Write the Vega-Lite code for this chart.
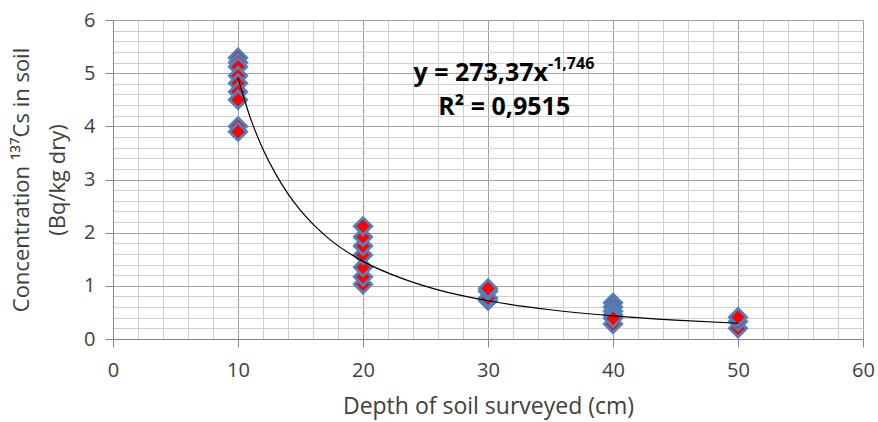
{
  "$schema": "https://vega.github.io/schema/vega-lite/v6.json",
  "width": 750,
  "height": 319,
  "autosize": {"type": "none"},
  "padding": {"left": 113, "top": 20, "right": 15, "bottom": 83},
  "background": "white",
  "config": {
    "view": {"stroke": null},
    "axis": {
      "labelFont": "Open Sans",
      "labelFontSize": 20,
      "labelColor": "#404040",
      "titleFont": "Open Sans",
      "titleFontSize": 22,
      "titleFontWeight": "normal",
      "titleColor": "#404040",
      "domainColor": "#868686",
      "tickColor": "#868686",
      "gridWidth": 1
    }
  },
  "datasets": {
    "obs": [
      {"depth": 10, "conc": 5.29}, {"depth": 10, "conc": 5.2}, {"depth": 10, "conc": 5.12},
      {"depth": 10, "conc": 4.95}, {"depth": 10, "conc": 4.81}, {"depth": 10, "conc": 4.65},
      {"depth": 10, "conc": 4.5}, {"depth": 10, "conc": 4.0}, {"depth": 10, "conc": 3.9},
      {"depth": 20, "conc": 1.03}, {"depth": 20, "conc": 1.17}, {"depth": 20, "conc": 1.35},
      {"depth": 20, "conc": 1.58}, {"depth": 20, "conc": 1.75}, {"depth": 20, "conc": 1.92},
      {"depth": 20, "conc": 2.12},
      {"depth": 30, "conc": 0.72}, {"depth": 30, "conc": 0.77}, {"depth": 30, "conc": 0.9},
      {"depth": 30, "conc": 0.95},
      {"depth": 40, "conc": 0.68}, {"depth": 40, "conc": 0.6}, {"depth": 40, "conc": 0.52},
      {"depth": 40, "conc": 0.45}, {"depth": 40, "conc": 0.28}, {"depth": 40, "conc": 0.39},
      {"depth": 50, "conc": 0.2}, {"depth": 50, "conc": 0.33}, {"depth": 50, "conc": 0.41}
    ],
    "trend": [
      {"depth": 10, "conc": 4.91}, {"depth": 11, "conc": 4.15}, {"depth": 12, "conc": 3.57},
      {"depth": 13, "conc": 3.11}, {"depth": 14, "conc": 2.73}, {"depth": 15, "conc": 2.42},
      {"depth": 17, "conc": 1.94}, {"depth": 20, "conc": 1.46}, {"depth": 23, "conc": 1.15},
      {"depth": 26, "conc": 0.925}, {"depth": 30, "conc": 0.72}, {"depth": 35, "conc": 0.55},
      {"depth": 40, "conc": 0.436}, {"depth": 45, "conc": 0.355}, {"depth": 50, "conc": 0.296}
    ],
    "notes": [
      {"kind": "eq", "depth": 34.8, "conc": 5.0, "label": "y = 273,37x"},
      {"kind": "sup", "depth": 34.8, "conc": 5.17, "label": "-1,746"},
      {"kind": "r2", "depth": 31.3, "conc": 4.37, "label": "R² = 0,9515"}
    ]
  },
  "encoding": {
    "x": {
      "field": "depth",
      "type": "quantitative",
      "scale": {"domain": [0, 60], "nice": false, "zero": false},
      "axis": {
        "title": "Depth of soil surveyed (cm)",
        "titleFontSize": 23,
        "values": [0,2,4,6,8,10,12,14,16,18,20,22,24,26,28,30,32,34,36,38,40,42,44,46,48,50,52,54,56,58,60],
        "labelExpr": "abs(datum.value - round(datum.value/10)*10) < 1e-6 ? datum.label : ''",
        "grid": true,
        "gridColor": {"condition": {"test": "abs(datum.value - round(datum.value/10)*10) < 1e-6", "value": "#a0a0a0"}, "value": "#d0d0d0"},
        "tickOpacity": {"condition": {"test": "abs(datum.value - round(datum.value/10)*10) < 1e-6", "value": 1}, "value": 0},
        "tickSize": 8,
        "labelPadding": 13,
        "titlePadding": 15,
        "labelFlush": false
      }
    },
    "y": {
      "field": "conc",
      "type": "quantitative",
      "scale": {"domain": [0, 6], "nice": false, "zero": false},
      "axis": {
        "title": ["Concentration ¹³⁷Cs in soil", "(Bq/kg dry)"],
        "titleLineHeight": 36,
        "values": [0,0.2,0.4,0.6,0.8,1,1.2,1.4,1.6,1.8,2,2.2,2.4,2.6,2.8,3,3.2,3.4,3.6,3.8,4,4.2,4.4,4.6,4.8,5,5.2,5.4,5.6,5.8,6],
        "labelExpr": "abs(datum.value - round(datum.value)) < 1e-6 ? format(datum.value, 'd') : ''",
        "grid": true,
        "gridColor": {"condition": {"test": "abs(datum.value - round(datum.value)) < 1e-6", "value": "#a0a0a0"}, "value": "#d0d0d0"},
        "tickOpacity": {"condition": {"test": "abs(datum.value - round(datum.value)) < 1e-6", "value": 1}, "value": 0},
        "tickSize": 8,
        "labelPadding": 10,
        "titlePadding": 14,
        "labelFlush": false
      }
    }
  },
  "layer": [
    {
      "data": {"name": "obs"},
      "mark": {"type": "point", "shape": "diamond", "filled": true, "fill": "#ff0000", "stroke": "#4f81bd", "strokeWidth": 2.8, "size": 300, "opacity": 1}
    },
    {
      "data": {"name": "trend"},
      "mark": {"type": "line", "color": "#000000", "strokeWidth": 1.2, "interpolate": "monotone"}
    },
    {
      "data": {"name": "notes"},
      "transform": [{"filter": "datum.kind === 'eq'"}],
      "mark": {"type": "text", "font": "Open Sans", "fontSize": 25, "fontWeight": "bold", "align": "right", "baseline": "middle", "color": "#000000"},
      "encoding": {"text": {"field": "label"}}
    },
    {
      "data": {"name": "notes"},
      "transform": [{"filter": "datum.kind === 'sup'"}],
      "mark": {"type": "text", "font": "Open Sans", "fontSize": 16, "fontWeight": "bold", "align": "left", "baseline": "middle", "color": "#000000"},
      "encoding": {"text": {"field": "label"}}
    },
    {
      "data": {"name": "notes"},
      "transform": [{"filter": "datum.kind === 'r2'"}],
      "mark": {"type": "text", "font": "Open Sans", "fontSize": 25, "fontWeight": "bold", "align": "center", "baseline": "middle", "color": "#000000"},
      "encoding": {"text": {"field": "label"}}
    }
  ]
}
